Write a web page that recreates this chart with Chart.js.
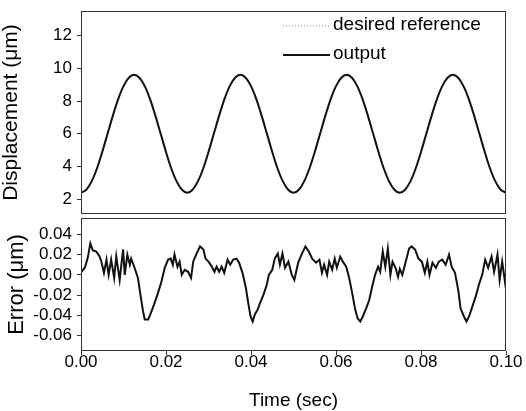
<!DOCTYPE html>
<html>
<head>
<meta charset="utf-8">
<script src="https://cdn.jsdelivr.net/npm/chart.js@4.4.0/dist/chart.umd.min.js"></script>
<style>
  body { margin: 0; background: #fff; }
  #wrap { position: relative; width: 526px; height: 411px; }
  #top-box { position: absolute; left: 0; top: 0; width: 526px; height: 220px; }
  #bot-box { position: absolute; left: 0; top: 216px; width: 526px; height: 195px; }
</style>
</head>
<body>
<div id="wrap">
  <div id="top-box"><canvas id="chart1"></canvas></div>
  <div id="bot-box"><canvas id="chart2"></canvas></div>
</div>
<script>
const dispTime = [
  0.00000, 0.00125, 0.00250, 0.00375, 0.00500, 0.00625, 0.00750, 0.00875, 0.01000, 0.01125,
  0.01250, 0.01375, 0.01500, 0.01625, 0.01750, 0.01875, 0.02000, 0.02125, 0.02250, 0.02375,
  0.02500, 0.02625, 0.02750, 0.02875, 0.03000, 0.03125, 0.03250, 0.03375, 0.03500, 0.03625,
  0.03750, 0.03875, 0.04000, 0.04125, 0.04250, 0.04375, 0.04500, 0.04625, 0.04750, 0.04875,
  0.05000, 0.05125, 0.05250, 0.05375, 0.05500, 0.05625, 0.05750, 0.05875, 0.06000, 0.06125,
  0.06250, 0.06375, 0.06500, 0.06625, 0.06750, 0.06875, 0.07000, 0.07125, 0.07250, 0.07375,
  0.07500, 0.07625, 0.07750, 0.07875, 0.08000, 0.08125, 0.08250, 0.08375, 0.08500, 0.08625,
  0.08750, 0.08875, 0.09000, 0.09125, 0.09250, 0.09375, 0.09500, 0.09625, 0.09750, 0.09875,
  0.10000
];
const outputDisp = [
  2.40, 2.58, 3.09, 3.88, 4.89, 6.00, 7.11, 8.12, 8.91, 9.42,
  9.60, 9.42, 8.91, 8.12, 7.11, 6.00, 4.89, 3.88, 3.09, 2.58,
  2.40, 2.58, 3.09, 3.88, 4.89, 6.00, 7.11, 8.12, 8.91, 9.42,
  9.60, 9.42, 8.91, 8.12, 7.11, 6.00, 4.89, 3.88, 3.09, 2.58,
  2.40, 2.58, 3.09, 3.88, 4.89, 6.00, 7.11, 8.12, 8.91, 9.42,
  9.60, 9.42, 8.91, 8.12, 7.11, 6.00, 4.89, 3.88, 3.09, 2.58,
  2.40, 2.58, 3.09, 3.88, 4.89, 6.00, 7.11, 8.12, 8.91, 9.42,
  9.60, 9.42, 8.91, 8.12, 7.11, 6.00, 4.89, 3.88, 3.09, 2.58,
  2.40
];
// the reference sits under the output curve, practically identical
const refDisp = outputDisp.slice();

// tracking error (sec, um)
const errTime = [
  0.0001, 0.0009, 0.0016, 0.0022, 0.0028, 0.0036, 0.0044, 0.0048, 0.0054, 0.0060,
  0.0065, 0.0071, 0.0078, 0.0083, 0.0091, 0.0099, 0.0103, 0.0109, 0.0115, 0.0118,
  0.0126, 0.0134, 0.0140, 0.0146, 0.0150, 0.0158, 0.0164, 0.0172, 0.0181, 0.0189,
  0.0197, 0.0205, 0.0211, 0.0216, 0.0220, 0.0227, 0.0232, 0.0237, 0.0244, 0.0252,
  0.0259, 0.0264, 0.0272, 0.0280, 0.0288, 0.0293, 0.0300, 0.0308, 0.0314, 0.0319,
  0.0325, 0.0331, 0.0337, 0.0345, 0.0351, 0.0358, 0.0366, 0.0372, 0.0380, 0.0388,
  0.0394, 0.0399, 0.0404, 0.0409, 0.0416, 0.0421, 0.0429, 0.0437, 0.0442, 0.0450,
  0.0456, 0.0463, 0.0468, 0.0474, 0.0480, 0.0488, 0.0496, 0.0502, 0.0511, 0.0520,
  0.0528, 0.0536, 0.0544, 0.0553, 0.0561, 0.0567, 0.0572, 0.0579, 0.0584, 0.0591,
  0.0597, 0.0602, 0.0610, 0.0616, 0.0624, 0.0631, 0.0639, 0.0645, 0.0651, 0.0657,
  0.0663, 0.0671, 0.0678, 0.0686, 0.0692, 0.0699, 0.0704, 0.0710, 0.0716, 0.0722,
  0.0728, 0.0733, 0.0740, 0.0746, 0.0750, 0.0756, 0.0764, 0.0772, 0.0778, 0.0786,
  0.0794, 0.0802, 0.0809, 0.0815, 0.0820, 0.0827, 0.0835, 0.0842, 0.0850, 0.0858,
  0.0866, 0.0872, 0.0880, 0.0888, 0.0893, 0.0901, 0.0907, 0.0913, 0.0921, 0.0929,
  0.0936, 0.0944, 0.0951, 0.0958, 0.0966, 0.0972, 0.0980, 0.0985, 0.0991, 0.0998,
  0.1000
];
const errVal = [
  0.003, 0.007, 0.017, 0.031, 0.024, 0.023, 0.018, 0.013, 0.002, 0.015,
  0.000, 0.015, -0.003, 0.018, -0.005, 0.025, 0.000, 0.020, 0.010, 0.016,
  0.007, -0.003, -0.020, -0.036, -0.044, -0.044, -0.038, -0.029, -0.018, -0.007,
  0.007, 0.015, 0.016, 0.010, 0.020, 0.008, 0.013, 0.000, 0.005, 0.003,
  -0.003, 0.013, 0.021, 0.028, 0.025, 0.016, 0.013, 0.008, 0.003, 0.008,
  0.003, 0.008, 0.002, 0.015, 0.010, 0.015, 0.016, 0.012, 0.002, -0.013,
  -0.029, -0.041, -0.046, -0.039, -0.034, -0.028, -0.020, -0.010, 0.000, 0.005,
  0.016, 0.021, 0.010, 0.021, 0.007, 0.013, 0.000, -0.005, 0.012, 0.021,
  0.028, 0.023, 0.016, 0.012, 0.015, 0.002, 0.010, 0.000, 0.013, 0.005,
  0.016, 0.007, 0.018, 0.013, 0.008, -0.003, -0.020, -0.034, -0.043, -0.046,
  -0.041, -0.033, -0.025, -0.010, 0.000, 0.008, 0.003, 0.023, 0.008, 0.026,
  0.000, 0.013, 0.007, -0.002, 0.006, 0.000, 0.013, 0.026, 0.028, 0.025,
  0.016, 0.013, 0.002, 0.013, 0.000, 0.012, 0.007, 0.013, 0.015, 0.010,
  0.020, 0.008, 0.002, -0.016, -0.033, -0.041, -0.046, -0.041, -0.031, -0.021,
  -0.010, 0.000, 0.015, 0.007, 0.018, 0.003, 0.020, -0.005, 0.013, -0.008,
  0.000
];

const timeTicks = [0.00, 0.02, 0.04, 0.06, 0.08, 0.10];
const dispTicks = [2, 4, 6, 8, 10, 12];
const errTicks = [-0.06, -0.04, -0.02, 0.00, 0.02, 0.04];

const FONT = '"Liberation Sans", Arial, Helvetica, sans-serif';

const toPoints = (xs, ys) => xs.map((x, i) => ({x: x, y: ys[i]}));

// box around each plot area
const frame = {
  id: 'frame',
  afterDraw(chart) {
    const {ctx, chartArea: a} = chart;
    ctx.save();
    ctx.strokeStyle = '#333';
    ctx.lineWidth = 1;
    ctx.strokeRect(Math.round(a.left) + 0.5, Math.round(a.top) + 0.5,
      Math.round(a.right - a.left) - 1, Math.round(a.bottom - a.top) - 1);
    ctx.restore();
  }
};

// legend sits inside the top panel, upper right
const legendInside = {
  id: 'legendInside',
  afterDatasetsDraw(chart) {
    const {ctx, chartArea} = chart;
    const x0 = chartArea.right - 223;
    const x1 = x0 + 47;
    ctx.save();
    chart.data.datasets.forEach((ds, i) => {
      const y = chartArea.top + 14 + i * 29;
      ctx.strokeStyle = ds.borderColor;
      ctx.lineWidth = ds.borderWidth;
      ctx.setLineDash(ds.borderDash || []);
      ctx.beginPath();
      ctx.moveTo(x0, y + 1);
      ctx.lineTo(x1, y + 1);
      ctx.stroke();
      ctx.setLineDash([]);
      ctx.fillStyle = '#000';
      ctx.font = '19px ' + FONT;
      ctx.textAlign = 'left';
      ctx.textBaseline = 'middle';
      ctx.fillText(ds.label, x1 + 3, y);
    });
    ctx.restore();
  }
};

function yAxis(min, max, tickList, fmt, title, titlePad, titleSize) {
  return {
    type: 'linear',
    min: min,
    max: max,
    afterBuildTicks: scale => { scale.ticks = tickList.map(v => ({value: v})); },
    afterFit: scale => {
      scale.width = 81;
      scale.paddingTop = 0;
      scale.paddingBottom = 0;
    },
    border: {display: false},
    grid: {drawOnChartArea: false, tickLength: 4, color: '#333'},
    ticks: {
      color: '#000',
      padding: 5,
      font: {family: FONT, size: 17},
      callback: fmt
    },
    title: {
      display: true,
      text: title,
      color: '#000',
      font: {family: FONT, size: titleSize, lineHeight: 1},
      padding: {top: titlePad, bottom: 0}
    }
  };
}

const ctx = document.getElementById('chart1');
const dispChart = new Chart(ctx, {
  type: 'line',
  data: {
    datasets: [{
      label: 'desired reference',
      data: toPoints(dispTime, refDisp),
      borderColor: '#8a8a8a',
      borderWidth: 1,
      borderDash: [1, 2],
      pointRadius: 0,
      cubicInterpolationMode: 'monotone',
      order: 2
    }, {
      label: 'output',
      data: toPoints(dispTime, outputDisp),
      borderColor: '#111',
      borderWidth: 2,
      pointRadius: 0,
      cubicInterpolationMode: 'monotone',
      order: 1
    }]
  },
  options: {
    responsive: true,
    maintainAspectRatio: false,
    animation: false,
    devicePixelRatio: 1,
    layout: {padding: {left: 0, right: 20, top: 11, bottom: 6}},
    plugins: {legend: {display: false}, tooltip: {enabled: false}},
    scales: {
      x: {type: 'linear', min: 0, max: 0.1, display: false},
      y: yAxis(1.1, 13.5, dispTicks, v => String(v), 'Displacement (\u03bcm)', 1, 21)
    }
  },
  plugins: [frame, legendInside]
});

const ctx2 = document.getElementById('chart2');
const errChart = new Chart(ctx2, {
  type: 'line',
  data: {
    datasets: [{
      label: 'error',
      data: toPoints(errTime, errVal),
      borderColor: '#111',
      borderWidth: 2,
      pointRadius: 0,
      tension: 0
    }]
  },
  options: {
    responsive: true,
    maintainAspectRatio: false,
    animation: false,
    devicePixelRatio: 1,
    layout: {padding: {left: 0, right: 20, top: 2, bottom: 0}},
    plugins: {legend: {display: false}, tooltip: {enabled: false}},
    scales: {
      x: {
        type: 'linear',
        min: 0,
        max: 0.1,
        afterBuildTicks: scale => { scale.ticks = timeTicks.map(v => ({value: v})); },
        afterFit: scale => {
          scale.height = 60;
          scale.paddingLeft = 0;
          scale.paddingRight = 0;
        },
        border: {display: false},
        grid: {drawOnChartArea: false, tickLength: 4, color: '#333'},
        ticks: {
          color: '#000',
          padding: -3,
          maxRotation: 0,
          font: {family: FONT, size: 17},
          callback: v => v.toFixed(2)
        },
        title: {
          display: true,
          text: 'Time (sec)',
          color: '#000',
          font: {family: FONT, size: 19, lineHeight: 1},
          padding: {top: 0, bottom: 1}
        }
      },
      y: yAxis(-0.075, 0.056, errTicks, v => v.toFixed(2), 'Error (\u03bcm)', 5.5, 22)
    }
  },
  plugins: [frame]
});
</script>
</body>
</html>
